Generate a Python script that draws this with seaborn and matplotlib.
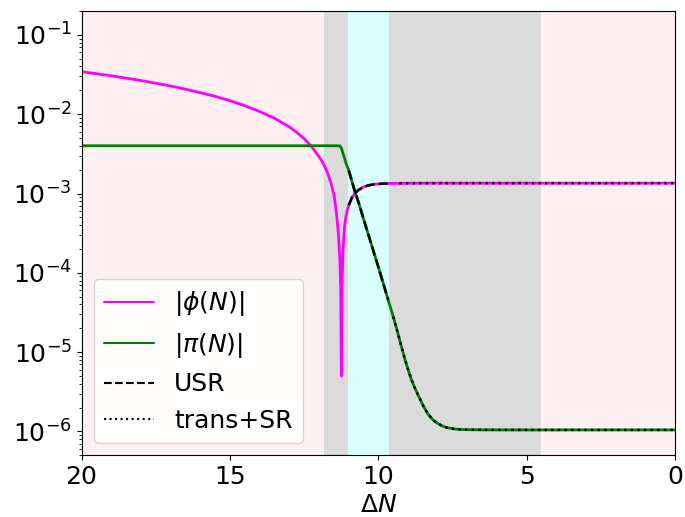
import numpy as np
import pandas as pd
import matplotlib
matplotlib.use("Agg")
import matplotlib.pyplot as plt
import seaborn as sns

# ---- data ----
N_phi = [20, 19.5, 19, 18.5, 18, 17.5, 17, 16.5, 16, 15.5, 15, 14.5, 14, 13.5,
         13, 12.75, 12.5, 12.25, 12.0, 11.9, 11.8, 11.7, 11.6, 11.5, 11.45,
         11.4, 11.35, 11.3, 11.27, 11.25, 11.23, 11.2, 11.15, 11.1, 11.05,
         11.0, 10.9, 10.8, 10.67, 10.5, 10.33, 10.15, 10.0, 9.8, 9.67, 9.3,
         9.0, 8.0, 5.0, 0.0]
phi_abs = [0.0344, 0.0324, 0.0305, 0.0285, 0.0266, 0.0246, 0.0227, 0.0207,
           0.0187, 0.0168, 0.0148, 0.0128, 0.0108, 0.0089, 0.0069, 0.0059,
           0.0049, 0.0039, 0.0029, 0.00255, 0.00215, 0.00176, 0.00135,
           0.00097, 0.00072, 0.0005, 0.00031, 0.00015, 6e-5, 5e-6, 6e-5,
           1.7e-4, 3.6e-4, 5.0e-4, 6.2e-4, 7.1e-4, 8.8e-4, 1.0e-3, 1.11e-3,
           1.21e-3, 1.27e-3, 1.305e-3, 1.322e-3, 1.335e-3, 1.34e-3, 1.345e-3,
           1.348e-3, 1.35e-3, 1.35e-3, 1.35e-3]

N_pi = [20, 15, 12, 11.4, 11.3, 11.25, 11.2, 11.15, 11.1, 11.0, 10.9, 10.8,
        10.67, 10.5, 10.33, 10.2, 10.0, 9.8, 9.67, 9.5, 9.35, 9.22, 9.1, 9.0,
        8.9, 8.8, 8.66, 8.49, 8.33, 8.15, 7.99, 7.8, 7.66, 7.4, 7.22, 6.8,
        6.43, 5.0, 3.0, 0.0]
pi_abs = [4.0e-3, 4.0e-3, 4.0e-3, 4.0e-3, 3.98e-3, 3.75e-3, 3.25e-3, 2.85e-3,
          2.45e-3, 1.95e-3, 1.45e-3, 1.08e-3, 7.7e-4, 4.75e-4, 2.95e-4,
          2.05e-4, 1.17e-4, 6.6e-5, 4.5e-5, 2.8e-5, 1.75e-5, 1.15e-5, 7.9e-6,
          6.0e-6, 4.6e-6, 3.7e-6, 2.85e-6, 2.1e-6, 1.65e-6, 1.38e-6, 1.25e-6,
          1.15e-6, 1.11e-6, 1.07e-6, 1.058e-6, 1.05e-6, 1.047e-6, 1.045e-6,
          1.045e-6, 1.045e-6]

# phase boundaries (Delta N) and their shading
span_edges = [20.0, 11.82, 11.03, 9.63, 4.53, 0.0]
span_colors = ["pink", "gray", "cyan", "gray", "pink"]
span_alphas = [0.22, 0.28, 0.14, 0.28, 0.22]

usr_range = (9.63, 11.03)   # analytic USR (dashed)
sr_range = (0.0, 9.63)      # trans+SR (dotted)

# ---- figure ----
sns.set_style("ticks")
plt.rcParams["font.family"] = ["DejaVu Sans"]
plt.rcParams["xtick.direction"] = "out"
plt.rcParams["ytick.direction"] = "out"
plt.rcParams["text.color"] = "black"
plt.rcParams["axes.labelcolor"] = "black"
plt.rcParams["xtick.color"] = "black"
plt.rcParams["ytick.color"] = "black"
fs = 18

fig = plt.figure(figsize=(6.85, 5.17), dpi=100)
ax = fig.add_axes([0.119, 0.1193, 0.867, 0.8594])

for a, b, c, al in zip(span_edges[:-1], span_edges[1:], span_colors, span_alphas):
    ax.axvspan(b, a, color=c, alpha=al, lw=0, zorder=0)

df_phi = pd.DataFrame({"N": N_phi, "v": phi_abs})
df_pi = pd.DataFrame({"N": N_pi, "v": pi_abs})

sns.lineplot(data=df_phi, x="N", y="v", ax=ax, color="magenta", lw=2,
             estimator=None, sort=False, label=r"$|\phi(N)|$")
sns.lineplot(data=df_pi, x="N", y="v", ax=ax, color="green", lw=2,
             estimator=None, sort=False, label=r"$|\pi(N)|$")

def sub(df, lo, hi):
    return df[(df["N"] >= lo) & (df["N"] <= hi)]

sns.lineplot(data=sub(df_phi, *usr_range), x="N", y="v", ax=ax, color="black",
             lw=1.8, ls="--", estimator=None, sort=False, label="USR")
sns.lineplot(data=sub(df_pi, *usr_range), x="N", y="v", ax=ax, color="black",
             lw=1.8, ls="--", estimator=None, sort=False)
sns.lineplot(data=sub(df_phi, *sr_range), x="N", y="v", ax=ax, color="black",
             lw=1.8, ls=":", estimator=None, sort=False, label="trans+SR")
sns.lineplot(data=sub(df_pi, *sr_range), x="N", y="v", ax=ax, color="black",
             lw=1.8, ls=":", estimator=None, sort=False)

ax.set_yscale("log")
ax.set_xlim(20, 0)
ax.set_ylim(5e-7, 0.2)
ax.set_xticks([20, 15, 10, 5, 0])
ax.set_xlabel(r"$\Delta N$", fontsize=fs, labelpad=3)
ax.set_ylabel("")
ax.tick_params(axis="both", which="major", labelsize=fs)
for s in ax.spines.values():
    s.set_visible(True)
    s.set_color("black")

leg = ax.legend(loc="lower left", fontsize=fs, framealpha=0.8)
for h in leg.get_lines():
    h.set_linewidth(1.5)

fig.savefig("out.png", dpi=100)
